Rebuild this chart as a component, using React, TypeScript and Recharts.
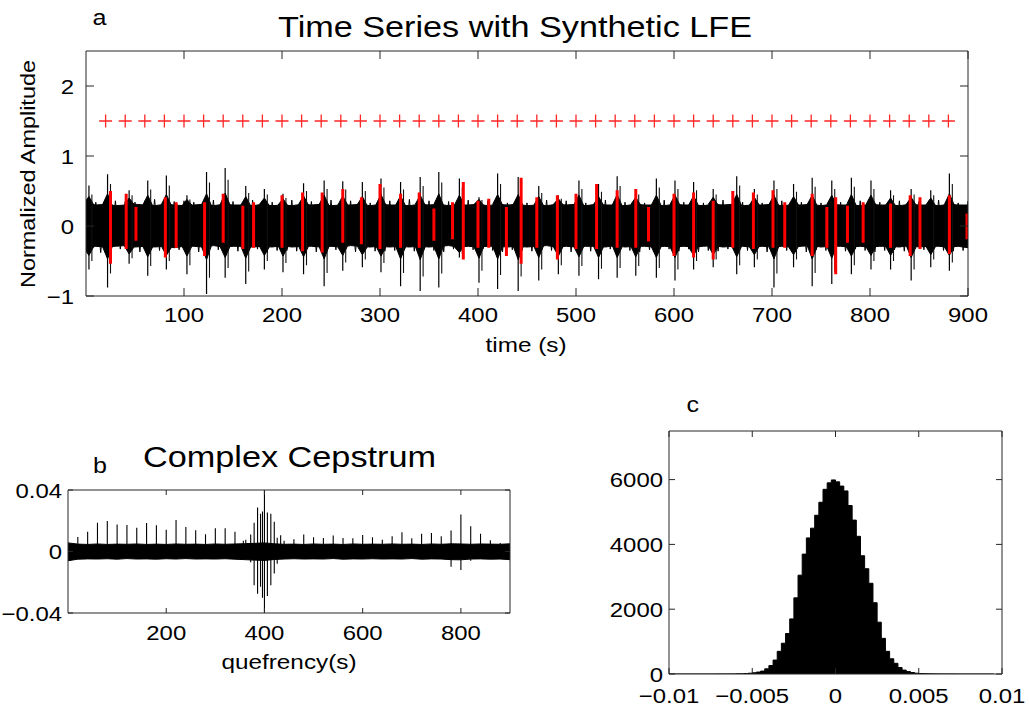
import React from 'react';
import { ComposedChart, XAxis, YAxis, Area, Line, Scatter } from 'recharts';

const FONT = '"Liberation Sans", Arial, Helvetica, sans-serif';
const SX = 1.14;
const AX = '#262626';
const W = 1029;
const H = 709;

// ---------- Panel a: time series ----------
const timeTicks = [100, 200, 300, 400, 500, 600, 700, 800, 900];
const ampTicks = [-1, 0, 1, 2];
const lfeMarkerTimes = [20, 40, 60, 80, 100, 120, 140, 160, 180, 200, 220, 240, 260, 280, 300, 320, 340, 360, 380, 400, 420, 440, 460, 480, 500, 520, 540, 560, 580, 600, 620, 640, 660, 680, 700, 720, 740, 760, 780, 800, 820, 840, 860, 880];
const lfeMarkerLevel = 1.5;

const noiseStep = 10;
const noiseHigh = [0.33, 0.30, 0.31, 0.29, 0.30, 0.31, 0.30, 0.29, 0.31, 0.30, 0.29, 0.30, 0.31, 0.29, 0.31, 0.30, 0.30, 0.29, 0.31, 0.29, 0.30, 0.29, 0.31, 0.30, 0.31, 0.29, 0.30, 0.30, 0.31, 0.29, 0.31, 0.30, 0.30, 0.29, 0.31, 0.30, 0.31, 0.29, 0.30, 0.30, 0.31, 0.29, 0.31, 0.30, 0.31, 0.29, 0.30, 0.29, 0.31, 0.30, 0.31, 0.29, 0.31, 0.30, 0.30, 0.29, 0.31, 0.30, 0.30, 0.29, 0.31, 0.30, 0.30, 0.29, 0.31, 0.30, 0.31, 0.29, 0.30, 0.30, 0.31, 0.29, 0.30, 0.30, 0.31, 0.29, 0.31, 0.30, 0.30, 0.29, 0.31, 0.30, 0.30, 0.29, 0.31, 0.30, 0.30, 0.29, 0.31, 0.30, 0.30];
const noiseLow = [-0.32, -0.29, -0.30, -0.29, -0.28, -0.30, -0.29, -0.30, -0.29, -0.31, -0.29, -0.29, -0.30, -0.28, -0.30, -0.29, -0.29, -0.30, -0.29, -0.30, -0.28, -0.30, -0.29, -0.29, -0.30, -0.29, -0.30, -0.28, -0.29, -0.30, -0.29, -0.30, -0.29, -0.30, -0.29, -0.30, -0.29, -0.28, -0.30, -0.29, -0.30, -0.29, -0.29, -0.30, -0.29, -0.30, -0.29, -0.28, -0.30, -0.29, -0.30, -0.29, -0.29, -0.30, -0.28, -0.30, -0.29, -0.29, -0.30, -0.29, -0.30, -0.29, -0.30, -0.29, -0.28, -0.30, -0.29, -0.29, -0.30, -0.29, -0.30, -0.29, -0.30, -0.29, -0.28, -0.30, -0.29, -0.29, -0.30, -0.29, -0.30, -0.29, -0.29, -0.30, -0.28, -0.30, -0.29, -0.29, -0.30, -0.29, -0.31];

// fine oscillation peaks riding on the noise band (every 5 s)
const fuzzStep = 5;
const fuzzPeaks = [
  0.37, -0.35, 0.34, -0.38, 0.33, -0.34, 0.36, -0.33, 0.35, -0.36,
  0.34, -0.37, 0.36, -0.33, 0.38, -0.35, 0.33, -0.36, 0.35, -0.34,
  0.36, -0.33, 0.34, -0.37, 0.35, -0.36, 0.37, -0.34, 0.33, -0.35,
  0.35, -0.36, 0.33, -0.34, 0.37, -0.33, 0.36, -0.38, 0.34, -0.35,
  0.33, -0.35, 0.37, -0.36, 0.34, -0.33, 0.35, -0.37, 0.36, -0.34,
  0.37, -0.34, 0.35, -0.33, 0.36, -0.37, 0.34, -0.35, 0.33, -0.36,
  0.34, -0.36, 0.36, -0.35, 0.33, -0.34, 0.38, -0.36, 0.35, -0.33,
  0.36, -0.35, 0.34, -0.37, 0.35, -0.33, 0.33, -0.36, 0.37, -0.34,
  0.35, -0.33, 0.36, -0.35, 0.34, -0.37, 0.33, -0.34, 0.36, -0.35,
  0.33, -0.36, 0.35, -0.34, 0.37, -0.35, 0.34, -0.33, 0.36, -0.37,
  0.36, -0.34, 0.33, -0.36, 0.35, -0.35, 0.37, -0.33, 0.34, -0.36,
  0.34, -0.35, 0.36, -0.37, 0.33, -0.34, 0.35, -0.36, 0.37, -0.33,
  0.35, -0.36, 0.34, -0.33, 0.36, -0.37, 0.33, -0.35, 0.34, -0.36,
  0.37, -0.33, 0.35, -0.36, 0.34, -0.35, 0.36, -0.34, 0.33, -0.37,
  0.34, -0.36, 0.36, -0.35, 0.35, -0.33, 0.34, -0.37, 0.36, -0.34,
  0.33, -0.35, 0.37, -0.34, 0.34, -0.36, 0.35, -0.33, 0.36, -0.35,
  0.36, -0.37, 0.34, -0.35, 0.33, -0.34, 0.36, -0.36, 0.35, -0.33,
  0.35, -0.34, 0.36, -0.33, 0.37, -0.35, 0.34, -0.36, 0.33, -0.35,
  0.36,
];

const burstTimes = [3, 22, 44, 63, 82, 103, 123, 142, 163, 182, 201, 222, 243, 262, 282, 301, 321, 341, 360, 381, 401, 420, 441, 462, 482, 503, 523, 542, 561, 582, 601, 620, 640, 664, 682, 702, 722, 741, 761, 781, 801, 821, 842, 862, 881];
const burstHigh = [0.58, 0.74, 0.51, 0.65, 0.72, 0.44, 0.77, 0.83, 0.57, 0.53, 0.46, 0.61, 0.65, 0.64, 0.63, 0.68, 0.63, 0.70, 0.77, 0.68, 0.41, 0.75, 0.70, 0.57, 0.44, 0.65, 0.60, 0.71, 0.53, 0.68, 0.65, 0.63, 0.53, 0.71, 0.53, 0.65, 0.60, 0.69, 0.65, 0.69, 0.65, 0.51, 0.53, 0.51, 0.75];
const burstLow = [-0.62, -0.88, -0.54, -0.71, -0.62, -0.69, -0.97, -0.74, -0.83, -0.62, -0.66, -0.69, -0.86, -0.64, -0.59, -0.66, -0.86, -0.93, -0.88, -0.45, -0.81, -0.90, -0.93, -0.78, -0.69, -0.71, -0.76, -0.74, -0.71, -0.74, -0.78, -0.62, -0.59, -0.69, -0.59, -0.88, -0.59, -0.86, -0.83, -0.69, -0.62, -0.62, -0.78, -0.59, -0.64];
const burstCoreHigh = [0.42, 0.46, 0.40, 0.44, 0.45, 0.38, 0.46, 0.47, 0.42, 0.40, 0.39, 0.43, 0.44, 0.43, 0.42, 0.45, 0.43, 0.44, 0.46, 0.44, 0.38, 0.45, 0.45, 0.42, 0.39, 0.44, 0.42, 0.45, 0.41, 0.44, 0.44, 0.43, 0.41, 0.45, 0.41, 0.44, 0.42, 0.44, 0.44, 0.45, 0.44, 0.40, 0.41, 0.40, 0.46];
const burstCoreLow = [-0.42, -0.47, -0.40, -0.44, -0.42, -0.43, -0.48, -0.45, -0.46, -0.42, -0.43, -0.44, -0.47, -0.42, -0.41, -0.43, -0.47, -0.48, -0.47, -0.38, -0.46, -0.47, -0.48, -0.45, -0.43, -0.44, -0.45, -0.45, -0.44, -0.45, -0.45, -0.42, -0.41, -0.44, -0.41, -0.47, -0.41, -0.47, -0.46, -0.43, -0.42, -0.42, -0.45, -0.41, -0.42];
const burst2Times = [6, 25, 47, 66, 85, 106, 126, 145, 166, 185, 204, 225, 246, 265, 285, 304, 324, 344, 363, 384, 404, 423, 444, 465, 485, 506, 526, 545, 564, 585, 604, 623, 643, 667, 685, 705, 725, 744, 764, 784, 804, 824, 845, 865, 884];
const burst2High = [0.45, 0.60, 0.44, 0.52, 0.58, 0.38, 0.62, 0.66, 0.47, 0.45, 0.40, 0.50, 0.53, 0.52, 0.50, 0.55, 0.52, 0.57, 0.62, 0.55, 0.37, 0.60, 0.57, 0.47, 0.39, 0.53, 0.49, 0.57, 0.45, 0.55, 0.53, 0.51, 0.45, 0.58, 0.45, 0.53, 0.49, 0.56, 0.53, 0.56, 0.53, 0.44, 0.45, 0.44, 0.60];
const burst2Low = [-0.50, -0.68, -0.46, -0.57, -0.50, -0.56, -0.74, -0.60, -0.65, -0.50, -0.53, -0.56, -0.67, -0.52, -0.48, -0.53, -0.67, -0.72, -0.68, -0.40, -0.64, -0.70, -0.72, -0.62, -0.56, -0.57, -0.61, -0.60, -0.57, -0.60, -0.62, -0.50, -0.48, -0.56, -0.48, -0.68, -0.48, -0.67, -0.65, -0.56, -0.50, -0.50, -0.62, -0.48, -0.52];
const spindleHalfWidth = 5;

const redTimes = [25, 41, 51, 81, 92, 121, 140, 160, 171, 200, 221, 241, 262, 281, 300, 321, 340, 355, 374, 385, 400, 411, 429, 444, 460, 481, 500, 521, 542, 561, 574, 600, 620, 640, 660, 681, 701, 713, 741, 756, 765, 777, 793, 821, 841, 851, 881, 899];
const redHigh = [0.50, 0.46, 0.27, 0.41, 0.34, 0.34, 0.46, 0.29, 0.34, 0.44, 0.48, 0.48, 0.53, 0.41, 0.60, 0.46, 0.48, 0.25, 0.34, 0.63, 0.36, 0.39, 0.27, 0.69, 0.41, 0.44, 0.46, 0.60, 0.51, 0.53, 0.27, 0.46, 0.48, 0.36, 0.50, 0.48, 0.51, 0.34, 0.46, 0.27, 0.41, 0.29, 0.34, 0.32, 0.44, 0.41, 0.44, 0.18];
const redLow = [-0.54, -0.33, -0.21, -0.45, -0.31, -0.43, -0.24, -0.33, -0.31, -0.31, -0.36, -0.38, -0.24, -0.26, -0.33, -0.31, -0.31, -0.21, -0.19, -0.48, -0.31, -0.31, -0.43, -0.54, -0.31, -0.48, -0.33, -0.33, -0.31, -0.31, -0.22, -0.43, -0.45, -0.48, -0.31, -0.33, -0.31, -0.31, -0.43, -0.31, -0.69, -0.24, -0.24, -0.31, -0.43, -0.33, -0.40, -0.19];

// ---------- Panel b: complex cepstrum ----------
const quefTicks = [200, 400, 600, 800];
const cepTicks = [-0.04, 0, 0.04];
const cepBandStep = 20;
const cepBandHigh = [0.0056, 0.0048, 0.0046, 0.0049, 0.0046, 0.0048, 0.0047, 0.0049, 0.0046, 0.0048, 0.0046, 0.0049, 0.0047, 0.0048, 0.0046, 0.0049, 0.0047, 0.0049, 0.0051, 0.0053, 0.0056, 0.0050, 0.0047, 0.0048, 0.0046, 0.0049, 0.0047, 0.0048, 0.0046, 0.0049, 0.0047, 0.0048, 0.0047, 0.0049, 0.0047, 0.0048, 0.0046, 0.0049, 0.0047, 0.0050, 0.0049, 0.0047, 0.0049, 0.0048, 0.0047, 0.0050];
const cepBandLow = [-0.0060, -0.0050, -0.0048, -0.0049, -0.0047, -0.0050, -0.0046, -0.0049, -0.0048, -0.0050, -0.0047, -0.0049, -0.0046, -0.0049, -0.0048, -0.0049, -0.0047, -0.0050, -0.0053, -0.0056, -0.0058, -0.0052, -0.0049, -0.0047, -0.0049, -0.0048, -0.0049, -0.0046, -0.0050, -0.0048, -0.0049, -0.0047, -0.0049, -0.0048, -0.0049, -0.0046, -0.0050, -0.0048, -0.0049, -0.0053, -0.0054, -0.0049, -0.0048, -0.0050, -0.0049, -0.0053];
const cepSpikeTimes = [20, 40, 60, 80, 100, 120, 140, 160, 180, 200, 220, 240, 260, 280, 300, 320, 340, 357, 362, 372, 379, 386, 392, 396, 400, 406, 413, 420, 426, 433, 440, 460, 480, 500, 520, 540, 560, 580, 600, 620, 640, 660, 680, 700, 720, 740, 760, 780, 800, 820, 840, 860, 880];
const cepSpikeHigh = [0.0095, 0.0128, 0.0187, 0.0198, 0.0176, 0.0172, 0.0154, 0.0185, 0.0170, 0.0141, 0.0205, 0.0159, 0.0139, 0.0112, 0.0152, 0.0152, 0.0128, 0.0070, 0.0077, 0.0110, 0.0187, 0.0286, 0.0246, 0.0260, 0.0600, 0.0253, 0.0246, 0.0194, 0.0090, 0.0105, 0.0070, 0.0080, 0.0110, 0.0093, 0.0088, 0.0104, 0.0088, 0.0086, 0.0108, 0.0093, 0.0077, 0.0099, 0.0126, 0.0086, 0.0115, 0.0121, 0.0099, 0.0137, 0.0240, 0.0165, 0.0115, 0.0073, 0.0055];
const cepSpikeLow = [-0.004, -0.004, -0.004, -0.004, -0.004, -0.004, -0.004, -0.004, -0.004, -0.004, -0.004, -0.004, -0.004, -0.004, -0.004, -0.004, -0.004, -0.004, -0.004, -0.0070, -0.0220, -0.0274, -0.0230, -0.0300, -0.0600, -0.0290, -0.0220, -0.0143, -0.0080, -0.004, -0.004, -0.004, -0.004, -0.004, -0.004, -0.004, -0.004, -0.004, -0.004, -0.004, -0.004, -0.004, -0.004, -0.004, -0.004, -0.004, -0.004, -0.0099, -0.0121, -0.0060, -0.004, -0.004, -0.004];

// ---------- Panel c: histogram ----------
const histTicksX = [-0.01, -0.005, 0, 0.005, 0.01];
const histTicksY = [0, 2000, 4000, 6000];
const histStart = -0.01;
const histBin = 0.00025;
const histCounts = [
  0, 0, 0, 0, 0, 0, 0, 0, 0, 0, 0, 1, 1, 2, 2, 3,
  5, 8, 14, 24, 38, 60, 90, 160, 260, 430, 700, 950, 1250, 1700, 2350, 3050,
  3700, 4200, 4500, 4900, 5300, 5700, 5900, 5990, 5930, 5800, 5650, 5200, 4750, 4250,
  3650, 3250, 2800, 2200, 1600, 1100, 700, 470, 330, 200, 120, 75, 45, 25, 15, 10,
  6, 4, 3, 2, 2, 1, 1, 0, 0, 0, 0, 0, 0, 0, 0, 0,
];

// ---------- helpers ----------
type Pt = { t: number; v: number | null };
const segments = (times: number[], hi: number[], lo: number[]): Pt[] => {
  const out: Pt[] = [];
  times.forEach((t, i) => {
    out.push({ t, v: hi[i] });
    out.push({ t, v: lo[i] });
    out.push({ t, v: null });
  });
  return out;
};
const bandAt = (t: number) => {
  const i = Math.max(0, Math.min(noiseHigh.length - 1, Math.round(t / noiseStep)));
  return [noiseLow[i], noiseHigh[i]];
};

const noiseData = noiseHigh.map((h, i) => ({ t: i * noiseStep, band: [noiseLow[i], h] as number[] | null }));
const fuzzData = fuzzPeaks.map((v, i) => ({ t: i * fuzzStep, v }));
const spindleData: { t: number; band: number[] | null }[] = [];
burstTimes.forEach((t, i) => {
  spindleData.push({ t: t - spindleHalfWidth, band: bandAt(t - spindleHalfWidth) });
  spindleData.push({ t, band: [burstCoreLow[i], burstCoreHigh[i]] });
  spindleData.push({ t: t + spindleHalfWidth, band: bandAt(t + spindleHalfWidth) });
  spindleData.push({ t: t + spindleHalfWidth, band: null });
});
const burstSeg = segments(burstTimes, burstHigh, burstLow);
const burst2Seg = segments(burst2Times, burst2High, burst2Low);
const redSeg = segments(redTimes, redHigh, redLow);
const markerData = lfeMarkerTimes.map((t) => ({ t, v: lfeMarkerLevel }));

const cepBandData = cepBandHigh.map((h, i) => ({ t: i * cepBandStep, band: [cepBandLow[i], h] }));
const cepSeg = segments(cepSpikeTimes, cepSpikeHigh, cepSpikeLow);

const histData = histCounts.map((c, i) => ({ t: histStart + i * histBin, v: c }));
histData.push({ t: histStart + histCounts.length * histBin, v: histCounts[histCounts.length - 1] });

const fmt = (v: number) => {
  const s = String(Math.abs(v));
  return v < 0 ? '\u2212' + s : s;
};

const makeXTick = (baseline: number) => (props: any) => {
  const { x, payload } = props;
  return (
    <g transform={`translate(${x},${baseline}) scale(${SX},1)`}>
      <text x={0} y={0} textAnchor="middle" fontSize={21} fontFamily={FONT} fill="#000">
        {fmt(payload.value)}
      </text>
    </g>
  );
};
const makeYTick = (rightX: number) => (props: any) => {
  const { y, payload } = props;
  return (
    <g transform={`translate(${rightX},${y + 7.5}) scale(${SX},1)`}>
      <text x={0} y={0} textAnchor="end" fontSize={21} fontFamily={FONT} fill="#000">
        {fmt(payload.value)}
      </text>
    </g>
  );
};
const EmptyTick = () => <g />;

const PlusShape = (p: any) => {
  const { cx, cy } = p;
  if (cx == null || cy == null) return <g />;
  return (
    <path
      d={`M${cx - 6.5},${cy}H${cx + 6.5}M${cx},${cy - 6.5}V${cy + 6.5}`}
      stroke="#ff2626"
      strokeWidth={1.3}
      fill="none"
    />
  );
};

const abs: React.CSSProperties = { position: 'absolute', left: 0, top: 0 };

type FrameProps = {
  xDomain: [number, number];
  yDomain: [number, number];
  xTicks: number[];
  yTicks: number[];
  tickLen: number;
  xBaseline: number;
  yRight: number;
};

const frameAxes = (f: FrameProps) => [
  <XAxis key="xb" type="number" dataKey="t" domain={f.xDomain} ticks={f.xTicks} allowDataOverflow orientation="bottom" mirror height={1} tickSize={f.tickLen} stroke={AX} tick={makeXTick(f.xBaseline)} interval={0} />,
  <XAxis key="xt" xAxisId="top" type="number" dataKey="t" domain={f.xDomain} ticks={f.xTicks} allowDataOverflow orientation="top" mirror height={1} tickSize={f.tickLen} stroke={AX} tick={EmptyTick} interval={0} />,
  <YAxis key="yl" type="number" domain={f.yDomain} ticks={f.yTicks} allowDataOverflow orientation="left" mirror width={1} tickSize={f.tickLen} stroke={AX} tick={makeYTick(f.yRight)} interval={0} />,
  <YAxis key="yr" yAxisId="right" type="number" domain={f.yDomain} ticks={f.yTicks} allowDataOverflow orientation="right" mirror width={1} tickSize={f.tickLen} stroke={AX} tick={EmptyTick} interval={0} />,
];

// plot box [left, top, right, bottom] -> chart margin (axes take 1px on each side)
const marginFor = (l: number, t: number, r: number, b: number) => ({ top: t - 1, left: l - 1, right: W - r - 1, bottom: H - b - 1 });

export default function App() {
  return (
    <div style={{ position: 'absolute', left: 0, top: 0, width: W, height: H, background: '#fff', overflow: 'hidden' }}>
      {/* Panel a */}
      <ComposedChart width={W} height={H} margin={marginFor(87, 52, 967, 295)} style={abs}>
        {frameAxes({ xDomain: [0, 900], yDomain: [-1, 2.5], xTicks: timeTicks, yTicks: ampTicks, tickLen: 8, xBaseline: 321.5, yRight: 74 })}
        <Area data={noiseData} dataKey="band" type="linear" stroke="#000" strokeWidth={1} fill="#000" fillOpacity={1} isAnimationActive={false} dot={false} activeDot={false} />
        <Line data={fuzzData} dataKey="v" type="linear" stroke="#000" strokeWidth={1} dot={false} activeDot={false} isAnimationActive={false} />
        <Area data={spindleData} dataKey="band" type="linear" stroke="#000" strokeWidth={1} fill="#000" fillOpacity={1} connectNulls={false} isAnimationActive={false} dot={false} activeDot={false} />
        <Line data={burstSeg} dataKey="v" type="linear" stroke="#000" strokeWidth={1.2} dot={false} activeDot={false} isAnimationActive={false} />
        <Line data={burst2Seg} dataKey="v" type="linear" stroke="#111" strokeWidth={1.1} dot={false} activeDot={false} isAnimationActive={false} />
        <Line data={redSeg} dataKey="v" type="linear" stroke="#ff0000" strokeWidth={3} dot={false} activeDot={false} isAnimationActive={false} />
        <Scatter data={markerData} dataKey="v" shape={PlusShape} isAnimationActive={false} />
      </ComposedChart>

      {/* Panel b */}
      <ComposedChart width={W} height={H} margin={marginFor(69, 491, 509, 612)} style={abs}>
        {frameAxes({ xDomain: [0, 900], yDomain: [-0.04, 0.04], xTicks: quefTicks, yTicks: cepTicks, tickLen: 5, xBaseline: 640, yRight: 62 })}
        <Area data={cepBandData} dataKey="band" type="linear" stroke="#000" strokeWidth={1} fill="#000" fillOpacity={1} isAnimationActive={false} dot={false} activeDot={false} />
        <Line data={cepSeg} dataKey="v" type="linear" stroke="#000" strokeWidth={1.1} dot={false} activeDot={false} isAnimationActive={false} />
      </ComposedChart>

      {/* Panel c */}
      <ComposedChart width={W} height={H} margin={marginFor(670, 432, 1001, 673)} style={abs}>
        {frameAxes({ xDomain: [-0.01, 0.01], yDomain: [0, 7500], xTicks: histTicksX, yTicks: histTicksY, tickLen: 6, xBaseline: 703, yRight: 663 })}
        <Area data={histData} dataKey="v" type="stepAfter" baseValue={0} stroke="#000" strokeWidth={1} fill="#000" fillOpacity={1} isAnimationActive={false} dot={false} activeDot={false} />
      </ComposedChart>

      {/* Titles and labels */}
      <svg width={W} height={H} style={{ ...abs, pointerEvents: 'none' }} fontFamily={FONT} fill="#000">
        <g transform={`translate(92.5,25) scale(${SX},1)`}>
          <text x={0} y={0} fontSize={22}>a</text>
        </g>
        <text x={515} y={37} fontSize={30} textAnchor="middle" textLength={474} lengthAdjust="spacingAndGlyphs">
          Time Series with Synthetic LFE
        </text>
        <text x={526} y={351.5} fontSize={21} textAnchor="middle" textLength={81} lengthAdjust="spacingAndGlyphs">
          time (s)
        </text>
        <text x={0} y={0} fontSize={21} textAnchor="middle" transform="translate(35,174) rotate(-90)" textLength={228} lengthAdjust="spacingAndGlyphs">
          Normalized Amplitude
        </text>

        <g transform={`translate(93,473) scale(${SX},1)`}>
          <text x={0} y={0} fontSize={22}>b</text>
        </g>
        <text x={289.5} y={467} fontSize={30} textAnchor="middle" textLength={293} lengthAdjust="spacingAndGlyphs">
          Complex Cepstrum
        </text>
        <text x={289} y={669} fontSize={21} textAnchor="middle" textLength={135} lengthAdjust="spacingAndGlyphs">
          quefrency(s)
        </text>

        <g transform={`translate(686.5,411.5) scale(${SX},1)`}>
          <text x={0} y={0} fontSize={22}>c</text>
        </g>
      </svg>
    </div>
  );
}
